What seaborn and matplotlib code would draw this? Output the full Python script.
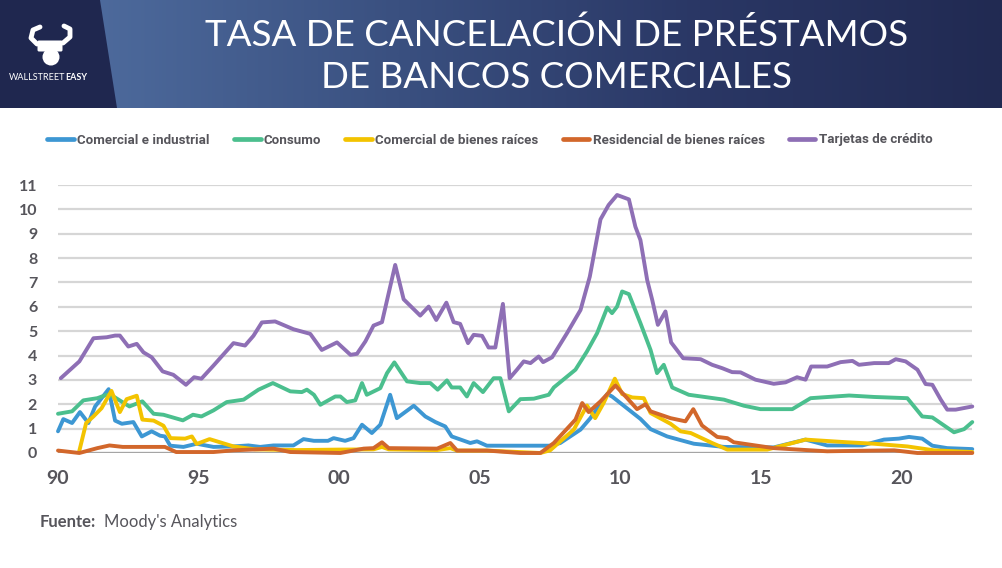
import numpy as np
import pandas as pd
import matplotlib
matplotlib.use("Agg")
import matplotlib.pyplot as plt
import seaborn as sns
from matplotlib.patches import Polygon, Circle, FancyBboxPatch
from matplotlib.lines import Line2D
from matplotlib.colors import LinearSegmentedColormap

# series
names = ["Comercial e industrial", "Consumo", "Comercial de bienes raíces",
         "Residencial de bienes raíces", "Tarjetas de crédito"]
colors = ["#3d97d3", "#4bbf8e", "#f3c300", "#d2672b", "#8e6fb5"]

# Comercial e industrial
ci_x = [1990.0, 1990.19, 1990.5, 1990.78, 1991.08, 1991.32, 1991.8, 1992.03, 1992.27, 1992.68,
        1992.98, 1993.33, 1993.63, 1993.8, 1993.99, 1994.46, 1994.93, 1995.53, 1996.24, 1996.77,
        1997.19, 1997.66, 1998.37, 1998.73, 1999.1, 1999.6, 1999.8, 2000.21, 2000.51, 2000.81,
        2001.16, 2001.46, 2001.81, 2002.05, 2002.65, 2003.06, 2003.42, 2003.77, 2004.0, 2004.66,
        2004.9, 2005.25, 2007.51, 2007.86, 2008.58, 2008.93, 2009.53, 2009.7, 2010.71, 2011.07,
        2011.66, 2012.61, 2013.68, 2015.45, 2016.58, 2017.35, 2018.6, 2019.37, 2019.9, 2020.26,
        2020.73, 2021.09, 2021.62, 2022.51]
ci_y = [0.89, 1.39, 1.23, 1.68, 1.23, 1.91, 2.62, 1.33, 1.20, 1.27,
        0.68, 0.89, 0.71, 0.68, 0.30, 0.25, 0.38, 0.25, 0.27, 0.31,
        0.25, 0.31, 0.31, 0.57, 0.50, 0.50, 0.61, 0.50, 0.61, 1.16,
        0.82, 1.16, 2.39, 1.43, 1.94, 1.50, 1.27, 1.09, 0.68, 0.41,
        0.48, 0.30, 0.30, 0.41, 0.96, 1.43, 2.42, 2.32, 1.40, 0.98,
        0.68, 0.38, 0.25, 0.23, 0.55, 0.31, 0.31, 0.55, 0.59, 0.66,
        0.59, 0.30, 0.20, 0.16]

# Consumo
co_x = [1990.0, 1990.5, 1990.9, 1991.4, 1991.73, 1992.0, 1992.54, 1993.0, 1993.4, 1993.75,
        1994.44, 1994.8, 1995.1, 1995.53, 1996.0, 1996.6, 1997.13, 1997.64, 1998.26, 1998.67,
        1998.85, 1999.1, 1999.33, 1999.86, 2000.04, 2000.27, 2000.57, 2000.81, 2000.98, 2001.46,
        2001.7, 2001.96, 2002.41, 2002.88, 2003.24, 2003.5, 2003.83, 2004.0, 2004.3, 2004.54,
        2004.78, 2005.11, 2005.49, 2005.73, 2006.03, 2006.44, 2006.92, 2007.45, 2007.63, 2008.4,
        2008.81, 2009.17, 2009.53, 2009.7, 2009.88, 2010.06, 2010.3, 2010.71, 2011.07, 2011.3,
        2011.54, 2011.84, 2012.43, 2013.68, 2014.39, 2014.98, 2016.11, 2016.76, 2018.13, 2019.02,
        2020.2, 2020.73, 2021.09, 2021.86, 2022.22, 2022.51]
co_y = [1.61, 1.71, 2.16, 2.25, 2.39, 2.30, 1.91, 2.12, 1.61, 1.57,
        1.34, 1.57, 1.50, 1.75, 2.09, 2.19, 2.60, 2.87, 2.53, 2.50,
        2.60, 2.39, 1.98, 2.32, 2.32, 2.09, 2.16, 2.87, 2.39, 2.66,
        3.28, 3.72, 2.94, 2.87, 2.87, 2.60, 2.98, 2.69, 2.69, 2.32,
        2.87, 2.50, 3.07, 3.07, 1.71, 2.21, 2.23, 2.39, 2.69, 3.42,
        4.17, 4.92, 5.97, 5.74, 6.01, 6.63, 6.52, 5.33, 4.23, 3.28,
        3.62, 2.69, 2.39, 2.19, 1.94, 1.80, 1.80, 2.25, 2.36, 2.30,
        2.25, 1.50, 1.46, 0.85, 0.98, 1.27]

# Comercial de bienes raices
cre_x = [1990.75, 1991.0, 1991.26, 1991.55, 1991.9, 1992.2, 1992.44, 1992.8, 1993.0, 1993.4,
         1993.75, 1994.0, 1994.52, 1994.76, 1994.93, 1995.39, 1996.24, 1997.0, 1998.5, 2000.0,
         2001.22, 2001.52, 2001.76, 2003.48, 2003.95, 2004.19, 2005.25, 2007.15, 2007.5, 2008.34,
         2008.81, 2009.1, 2009.4, 2009.8, 2010.06, 2010.42, 2010.83, 2011.07, 2011.78, 2012.14,
         2012.5, 2013.26, 2013.8, 2015.22, 2016.58, 2018.07, 2019.02, 2020.2, 2021.15, 2022.51]
cre_y = [0.05, 1.23, 1.50, 1.84, 2.55, 1.68, 2.21, 2.35, 1.37, 1.33,
         1.12, 0.61, 0.59, 0.68, 0.37, 0.57, 0.27, 0.15, 0.12, 0.14,
         0.15, 0.25, 0.15, 0.12, 0.20, 0.10, 0.10, 0.0, 0.11, 0.96,
         1.95, 1.43, 2.05, 3.05, 2.42, 2.28, 2.25, 1.64, 1.20, 0.89,
         0.82, 0.41, 0.14, 0.14, 0.55, 0.44, 0.38, 0.27, 0.11, 0.04]

# Residencial de bienes raices
res_x = [1990.0, 1990.76, 1991.4, 1991.83, 1992.3, 1993.8, 1994.2, 1995.53, 1996.24, 1997.66,
         1998.26, 2000.04, 2000.87, 2001.22, 2001.52, 2001.76, 2003.48, 2003.95, 2004.19, 2005.25,
         2006.44, 2007.15, 2007.63, 2008.4, 2008.64, 2008.87, 2009.29, 2009.82, 2010.24, 2010.59,
         2010.89, 2011.07, 2011.78, 2012.31, 2012.59, 2012.9, 2013.44, 2013.8, 2014.03, 2015.45,
         2017.35, 2019.02, 2019.73, 2020.56, 2022.51]
res_y = [0.10, 0.0, 0.20, 0.31, 0.25, 0.25, 0.04, 0.04, 0.11, 0.18,
         0.04, 0.0, 0.18, 0.20, 0.44, 0.20, 0.18, 0.41, 0.10, 0.10,
         0.0, 0.0, 0.41, 1.37, 2.05, 1.68, 2.12, 2.77, 2.25, 1.80,
         2.0, 1.71, 1.43, 1.30, 1.80, 1.13, 0.66, 0.61, 0.44, 0.20,
         0.07, 0.10, 0.11, 0.0, 0.0]

# Tarjetas de credito
tc_x = [1990.1, 1990.76, 1991.26, 1991.73, 1992.03, 1992.2, 1992.5, 1992.8, 1993.04, 1993.33,
        1993.72, 1994.1, 1994.55, 1994.84, 1995.1, 1995.53, 1996.24, 1996.65, 1996.95, 1997.25,
        1997.72, 1998.37, 1998.97, 1999.38, 1999.92, 2000.4, 2000.63, 2000.93, 2001.22, 2001.52,
        2001.99, 2002.29, 2002.88, 2003.18, 2003.45, 2003.81, 2004.07, 2004.3, 2004.58, 2004.78,
        2005.08, 2005.31, 2005.55, 2005.82, 2006.06, 2006.32, 2006.56, 2006.8, 2007.09, 2007.25,
        2007.57, 2008.1, 2008.58, 2008.91, 2009.29, 2009.58, 2009.88, 2010.3, 2010.53, 2010.71,
        2010.95, 2011.13, 2011.33, 2011.6, 2011.8, 2012.23, 2012.85, 2013.26, 2013.62, 2013.97,
        2014.27, 2014.8, 2015.45, 2015.87, 2016.28, 2016.58, 2016.78, 2017.35, 2017.83, 2018.25,
        2018.48, 2019.02, 2019.54, 2019.79, 2020.14, 2020.56, 2020.85, 2021.09, 2021.39, 2021.62,
        2021.92, 2022.51]
tc_y = [3.07, 3.76, 4.71, 4.75, 4.82, 4.82, 4.37, 4.48, 4.13, 3.93,
        3.35, 3.21, 2.80, 3.11, 3.05, 3.59, 4.51, 4.41, 4.81, 5.36,
        5.40, 5.08, 4.89, 4.23, 4.54, 4.03, 4.07, 4.58, 5.23, 5.37,
        7.72, 6.31, 5.64, 6.01, 5.46, 6.17, 5.37, 5.30, 4.51, 4.85,
        4.81, 4.33, 4.33, 6.12, 3.07, 3.42, 3.76, 3.69, 3.96, 3.73,
        3.93, 4.92, 5.87, 7.24, 9.59, 10.18, 10.59, 10.41, 9.29, 8.74,
        7.10, 6.28, 5.26, 5.81, 4.54, 3.89, 3.85, 3.62, 3.48, 3.32,
        3.31, 3.01, 2.84, 2.90, 3.11, 3.01, 3.55, 3.55, 3.73, 3.78,
        3.62, 3.69, 3.69, 3.85, 3.76, 3.42, 2.83, 2.80, 2.19, 1.78,
        1.78, 1.91]

x_ticks = [1990, 1995, 2000, 2005, 2010, 2015, 2020]
x_labels = ["90", "95", "00", "05", "10", "15", "20"]
y_ticks = list(range(0, 12))

frames = []
for name, xs, ys in zip(names, [ci_x, co_x, cre_x, res_x, tc_x], [ci_y, co_y, cre_y, res_y, tc_y]):
    frames.append(pd.DataFrame({"year": xs, "rate": ys, "serie": name}))
df = pd.concat(frames, ignore_index=True)

sns.set_theme(style="white")
plt.rcParams["font.family"] = ["Lato", "DejaVu Sans"]
txt_gray = "#56555b"

W, H = 1002, 568
fig = plt.figure(figsize=(W / 100, H / 100), dpi=100)
fig.patch.set_facecolor("white")

# header band
hax = fig.add_axes([0, 1 - 108 / H, 1, 108 / H])
hax.set_xlim(0, W)
hax.set_ylim(108, 0)
hax.axis("off")
cmap = LinearSegmentedColormap.from_list("hdr", ["#4d6a9c", "#3a5080", "#2a3765", "#212a52"])
grad = np.linspace(0, 1, 512).reshape(1, -1)
hax.imshow(grad, cmap=cmap, extent=[95, W, 108, 0], aspect="auto", zorder=0)
hax.add_patch(Polygon([[0, 0], [100, 0], [117, 108], [0, 108]], closed=True,
                      facecolor="#1f274f", edgecolor="none", zorder=1))
# simple logo
hax.plot([37, 31, 33, 40], [44, 38, 30, 27], color="white", lw=3.5, solid_capstyle="round", zorder=2)
hax.plot([63, 70, 70, 64], [43, 37, 29, 26], color="white", lw=3.5, solid_capstyle="round", zorder=2)
hax.add_patch(FancyBboxPatch((39, 42), 22, 8, boxstyle="round,pad=1.5", facecolor="white",
                             edgecolor="none", zorder=2))
hax.add_patch(Circle((51, 57), 8.5, facecolor="white", edgecolor="none", zorder=2))
hax.text(65, 78, "WALLSTREET", color="white", fontsize=6.5, ha="right", va="center", zorder=3)
hax.text(65.5, 78, "EASY", color="white", fontsize=6.5, fontweight="bold", ha="left", va="center", zorder=3)

hax.text(557, 35, "TASA DE CANCELACIÓN DE PRÉSTAMOS", color="white", fontsize=26.5,
         fontweight="normal", ha="center", va="center", zorder=3)
hax.text(557, 77, "DE BANCOS COMERCIALES", color="white", fontsize=26.5,
         fontweight="normal", ha="center", va="center", zorder=3)

# chart
ax = fig.add_axes([58 / W, (H - 453) / H, 914 / W, 268 / H])
sns.lineplot(data=df, x="year", y="rate", hue="serie", hue_order=names, palette=colors,
             lw=2.8, estimator=None, sort=False, legend=False, ax=ax)
for ln in ax.get_lines():
    ln.set_clip_on(False)
    ln.set_solid_joinstyle("round")
    ln.set_zorder(3)

ax.set_xlim(1990, 2022.5)
ax.set_ylim(0, 11)
ax.set_yticks(y_ticks)
ax.set_xticks(x_ticks, x_labels)
ax.grid(axis="y", color="#d6d6d6", lw=1.6)
ax.axhline(0, color="#a5a5a5", lw=1.6, zorder=2)
ax.set_xlabel("")
ax.set_ylabel("")
sns.despine(ax=ax, left=True, bottom=True)
ax.tick_params(axis="both", length=0)
ax.tick_params(axis="y", pad=15, labelsize=11.5, labelcolor=txt_gray)
ax.tick_params(axis="x", pad=12, labelsize=14, labelcolor=txt_gray)
for lab in ax.get_xticklabels() + ax.get_yticklabels():
    lab.set_fontweight("bold")

# legend
handles = [Line2D([0], [0], color=c, lw=3.4) for c in colors]
fig.legend(handles, names, ncol=5, loc="center", bbox_to_anchor=(490 / W, 1 - 140 / H),
           frameon=False, handlelength=2.0, handletextpad=0.25, columnspacing=1.8,
           prop={"family": "Roboto", "weight": "bold", "size": 9.6}, labelcolor=txt_gray)

# source
fig.text(40 / W, 1 - 522 / H, "Fuente:", fontsize=12, fontweight="bold", color=txt_gray, va="center")
fig.text(104 / W, 1 - 522 / H, "Moody's Analytics", fontsize=12, color=txt_gray, va="center")

fig.savefig("out.png", dpi=100, facecolor="white")
